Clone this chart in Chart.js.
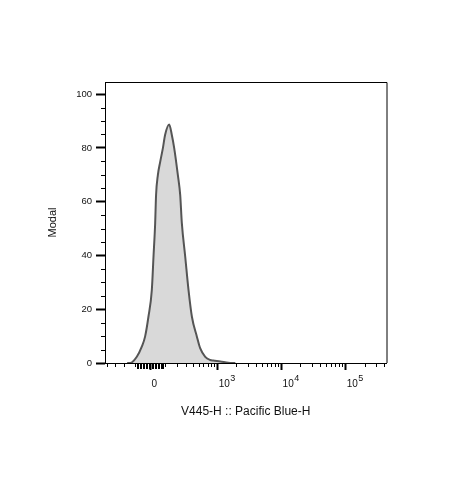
<!DOCTYPE html>
<html>
<head>
<meta charset="utf-8">
<script src="https://cdn.jsdelivr.net/npm/chart.js@4.4.0/dist/chart.umd.min.js"></script>
<style>
  html, body { margin: 0; padding: 0; background: #fff; }
  #wrap { width: 473px; height: 478px; }
</style>
</head>
<body>
<div id="wrap"><canvas id="histChart" width="473" height="478"></canvas></div>
<script>
// histogram: fluorescence intensity and % of max
const intensity = [-167, -142, -90, -55, -33, -11, 11, 22, 33, 39, 51, 67, 86, 102, 134, 156, 177, 195, 212, 236, 254, 294, 337, 386, 469, 531, 643, 775, 865, 1118, 1495, 1926];
const modal = [0, 0, 2.3, 6.1, 9.8, 17.2, 27.1, 39.5, 52, 62.5, 69.9, 74.8, 79.9, 84.8, 88.7, 84.8, 79.9, 74.8, 69.9, 62.5, 52, 39.5, 27.1, 17.2, 9.8, 5.5, 2.3, 1.1, 0.9, 0.6, 0.1, 0];

const xMajor = [0, 1000, 10000, 100000];
const xMajorBase = ['0', '10', '10', '10'];
const xMajorExp = ['', '3', '4', '5'];
const yMajor = [0, 20, 40, 60, 80, 100];

const X_MIN = -440, X_MAX = 440000;
const Y_MIN = 0, Y_MAX = 104.5;

// biexponential-ish display transform (arcsinh)
const BIEX_C = 181.2;
const biex = v => Math.asinh(v / BIEX_C) / Math.LN10;

// minor tick values on the x axis
const xMinor = [];
for (let d = 10; d <= 100000; d *= 10) {
    for (let m = 1; m <= 9; m++) {
        xMinor.push(m * d, -m * d);
    }
}

const FONT = "'Liberation Sans', Arial, sans-serif";

// ================= FRAME / MINOR TICKS / X LABELS =================
const flowAxes = {
    id: 'flowAxes',
    afterDraw(chart) {
        const ctx = chart.ctx;
        const a = chart.chartArea;
        const xs = chart.scales.x;
        const ys = chart.scales.y;

        ctx.save();
        ctx.strokeStyle = '#000';
        ctx.lineWidth = 1;

        // top + right edges of the box
        ctx.beginPath();
        ctx.moveTo(a.left, a.top + 0.5);
        ctx.lineTo(a.right + 0.5, a.top + 0.5);
        ctx.lineTo(a.right + 0.5, a.bottom);
        ctx.stroke();

        // y minor ticks every 5
        ctx.beginPath();
        for (let v = 5; v < Y_MAX; v += 5) {
            if (v % 20 === 0) continue;
            const y = Math.round(ys.getPixelForValue(v)) + 0.5;
            ctx.moveTo(a.left, y);
            ctx.lineTo(a.left - 4, y);
        }
        ctx.stroke();

        // x minor ticks (the linear zone around 0 gets longer ones)
        ctx.beginPath();
        xMinor.forEach(v => {
            if (v < X_MIN || v > X_MAX || xMajor.includes(v)) return;
            const x = Math.round(xs.getPixelForValue(biex(v))) + 0.5;
            const len = Math.abs(v) < 100 ? 6 : 4;
            ctx.moveTo(x, a.bottom);
            ctx.lineTo(x, a.bottom + len);
        });
        ctx.stroke();

        // x labels with superscripts
        ctx.fillStyle = '#111';
        ctx.textAlign = 'left';
        ctx.textBaseline = 'alphabetic';
        xMajor.forEach((v, i) => {
            const x = xs.getPixelForValue(biex(v)) + 1.5;
            ctx.font = '10px ' + FONT;
            ctx.fillText(xMajorBase[i], x, a.bottom + 24);
            if (xMajorExp[i]) {
                const w = ctx.measureText(xMajorBase[i]).width;
                ctx.font = '9px ' + FONT;
                ctx.fillText(xMajorExp[i], x + w + 0.5, a.bottom + 18);
            }
        });
        ctx.restore();
    }
};

new Chart(document.getElementById('histChart'), {
    type: 'line',
    data: {
        datasets: [{
            data: intensity.map((v, i) => ({ x: biex(v), y: modal[i] })),
            borderColor: '#555555',
            backgroundColor: '#d9d9d9',
            borderWidth: 2,
            fill: 'origin',
            pointRadius: 0,
            cubicInterpolationMode: 'monotone'
        }]
    },
    options: {
        responsive: false,
        animation: false,
        layout: {
            padding: { left: 47.5, top: 82, right: 86.5, bottom: 60 }
        },
        plugins: {
            legend: { display: false },
            tooltip: { enabled: false }
        },
        scales: {
            x: {
                type: 'linear',
                min: biex(X_MIN),
                max: biex(X_MAX),
                afterBuildTicks: s => { s.ticks = xMajor.map(v => ({ value: biex(v) })); },
                afterFit: s => { s.height = 55; },
                ticks: { autoSkip: false, callback: () => '', maxRotation: 0 },
                grid: {
                    drawOnChartArea: false,
                    tickLength: 7,
                    tickWidth: 2,
                    tickColor: '#000'
                },
                border: { color: '#000', width: 1 },
                title: {
                    display: true,
                    text: 'V445-H :: Pacific Blue-H',
                    color: '#111',
                    font: { family: FONT, size: 12, lineHeight: 1 },
                    padding: 0
                }
            },
            y: {
                min: Y_MIN,
                max: Y_MAX,
                afterBuildTicks: s => { s.ticks = yMajor.map(v => ({ value: v })); },
                afterFit: s => { s.width = 57.5; },
                ticks: {
                    color: '#111',
                    font: { family: FONT, size: 9.5 },
                    padding: 4
                },
                grid: {
                    drawOnChartArea: false,
                    tickLength: 9,
                    tickWidth: 2,
                    tickColor: '#000'
                },
                border: { color: '#000', width: 1 },
                title: {
                    display: true,
                    text: 'Modal',
                    color: '#111',
                    font: { family: FONT, size: 11, lineHeight: 1 },
                    padding: 0
                }
            }
        }
    },
    plugins: [flowAxes]
});
</script>
</body>
</html>
